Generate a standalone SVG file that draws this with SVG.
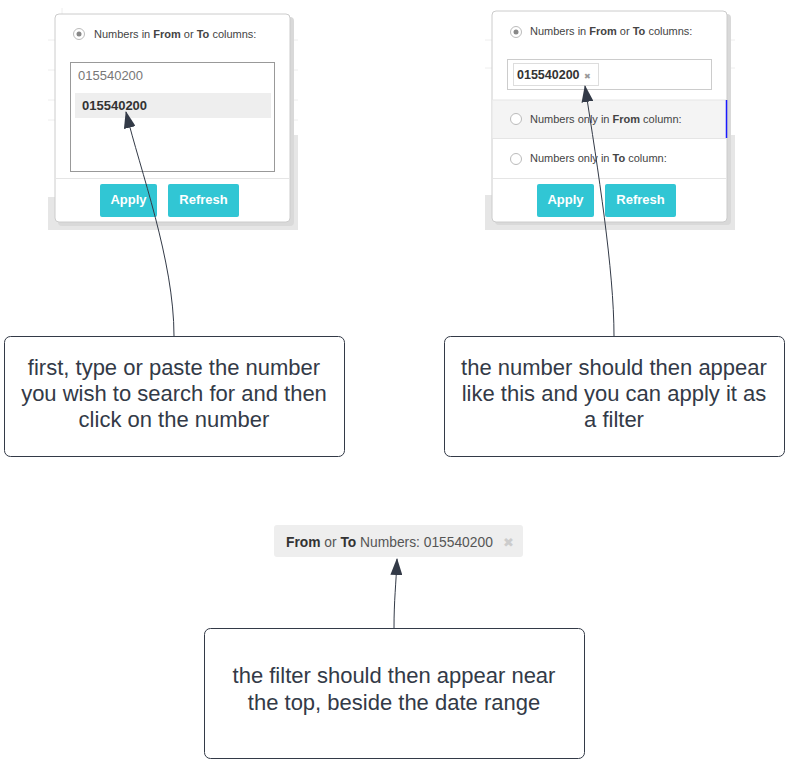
<svg xmlns="http://www.w3.org/2000/svg" width="788" height="770" viewBox="0 0 788 770">
<defs>
<marker id="ah" viewBox="0 0 17 12" refX="16" refY="6" markerWidth="17" markerHeight="12" markerUnits="userSpaceOnUse" orient="auto">
<path d="M0,0 L17,6 L0,12 Z" fill="#333a47"/>
</marker>
</defs>
<style>
.ui{font-family:"Liberation Sans",Arial,sans-serif;font-size:11px;fill:#444}
.b{font-weight:bold}
.x{font-family:"DejaVu Sans",sans-serif}
.btn{fill:#31c6d4}
.btnt{font-family:"Liberation Sans",Arial,sans-serif;font-size:13px;font-weight:bold;fill:#fff;text-anchor:middle}
.radio{fill:#fff;stroke:#bbb;stroke-width:1}
.pop{fill:#fff;stroke:#ccc;stroke-width:1}
.shadow{fill:#d9d9d9}
.grid{stroke:#eee;stroke-width:1}
.callout{fill:#fff;stroke:#333a47;stroke-width:1}
.ct{font-family:"Liberation Sans",Arial,sans-serif;font-size:22px;fill:#333a47;text-anchor:middle}
.conn{fill:none;stroke:#333a47;stroke-width:1}
</style>

<g id="screenshot-left">
<rect x="48" y="8" width="250" height="224" fill="#fff"/>
<line class="grid" x1="62" y1="8" x2="62" y2="197"/>
<line class="grid" x1="48" y1="40" x2="298" y2="40"/>
<line class="grid" x1="48" y1="70" x2="298" y2="70"/>
<line class="grid" x1="48" y1="100" x2="298" y2="100"/>
<line class="grid" x1="48" y1="120" x2="298" y2="120"/>
<rect x="48" y="197" width="250" height="33" fill="#e6e6e6"/>
<rect x="290" y="135" width="8" height="95" fill="#e6e6e6"/>
<rect class="shadow" x="58" y="17" width="236" height="209" rx="4"/>
<rect class="pop" x="55" y="14" width="235" height="208" rx="4"/>
<circle class="radio" cx="79" cy="34" r="5.5"/>
<circle cx="79" cy="34" r="2.5" fill="#888"/>
<text class="ui" x="94" y="38">Numbers in <tspan class="b">From</tspan> or <tspan class="b">To</tspan> columns:</text>
<rect x="70.5" y="62.5" width="204" height="109" fill="#fff" stroke="#999"/>
<text class="ui" x="78" y="80" style="font-size:13px;fill:#777">015540200</text>
<rect x="75" y="93" width="196" height="25" fill="#eee"/>
<text class="ui b" x="82" y="110" style="font-size:13px;fill:#333">015540200</text>
<line x1="55" y1="178.5" x2="290" y2="178.5" stroke="#e5e5e5"/>
<rect class="btn" x="100" y="184" width="57" height="33" rx="2"/>
<text class="btnt" x="128.5" y="204">Apply</text>
<rect class="btn" x="168" y="184" width="71" height="33" rx="2"/>
<text class="btnt" x="203.5" y="204">Refresh</text>
</g>

<g id="screenshot-right">
<rect x="485" y="8" width="250" height="222" fill="#fff"/>
<line class="grid" x1="485" y1="40" x2="735" y2="40"/>
<line class="grid" x1="485" y1="68" x2="735" y2="68"/>
<rect x="485" y="195" width="250" height="35" fill="#e6e6e6"/>
<rect x="727" y="135" width="8" height="95" fill="#e6e6e6"/>
<rect class="shadow" x="495" y="14" width="236" height="211" rx="4"/>
<rect class="pop" x="492" y="11" width="235" height="211" rx="4"/>
<circle class="radio" cx="516" cy="32" r="5.5"/>
<circle cx="516" cy="32" r="2.5" fill="#888"/>
<text class="ui" x="530" y="35">Numbers in <tspan class="b">From</tspan> or <tspan class="b">To</tspan> columns:</text>
<rect x="507.5" y="59.5" width="204" height="30" fill="#fff" stroke="#ccc"/>
<rect x="513.5" y="63.5" width="85" height="22" fill="#fff" stroke="#ddd"/>
<text class="ui b" x="517" y="79" style="font-size:12.5px;fill:#333">015540200</text>
<text class="x" x="584" y="79" style="font-size:8px;fill:#999">✖</text>
<rect x="492.5" y="100" width="234" height="38" fill="#f4f4f4"/>
<line x1="492.5" y1="100" x2="726.5" y2="100" stroke="#e5e5e5"/>
<line x1="726.5" y1="100" x2="726.5" y2="138" stroke="#1a1aff" stroke-width="1.5"/>
<circle class="radio" cx="516" cy="119" r="5.5"/>
<text class="ui" x="530" y="123">Numbers only in <tspan class="b">From</tspan> column:</text>
<line x1="492.5" y1="138.5" x2="726.5" y2="138.5" stroke="#e5e5e5"/>
<circle class="radio" cx="516" cy="159" r="5.5"/>
<text class="ui" x="530" y="162">Numbers only in <tspan class="b">To</tspan> column:</text>
<line x1="492.5" y1="178.5" x2="726.5" y2="178.5" stroke="#e5e5e5"/>
<rect class="btn" x="537" y="184" width="57" height="33" rx="2"/>
<text class="btnt" x="565.5" y="204">Apply</text>
<rect class="btn" x="605" y="184" width="71" height="33" rx="2"/>
<text class="btnt" x="640.5" y="204">Refresh</text>
</g>

<g id="filter-chip">
<rect x="274" y="525" width="249" height="32" rx="3" fill="#eee"/>
<text class="ui" x="286" y="547" style="font-size:13.8px;fill:#555"><tspan class="b" style="fill:#333">From</tspan> or <tspan class="b" style="fill:#333">To</tspan> Numbers: 015540200</text>
<text class="x" x="503" y="547" style="font-size:13px;fill:#ccc">✖</text>
</g>

<g id="callout-left">
<rect class="callout" x="4.5" y="336.5" width="340" height="120" rx="6"/>
<text class="ct" x="174" y="375">first, type or paste the number</text>
<text class="ct" x="174" y="401">you wish to search for and then</text>
<text class="ct" x="174" y="427">click on the number</text>
</g>

<g id="callout-right">
<rect class="callout" x="444.5" y="336.5" width="340" height="120" rx="6"/>
<text class="ct" x="614" y="375">the number should then appear</text>
<text class="ct" x="614" y="401">like this and you can apply it as</text>
<text class="ct" x="614" y="427">a filter</text>
</g>

<g id="callout-bottom">
<rect class="callout" x="204.5" y="628.5" width="380" height="130" rx="6"/>
<text class="ct" x="394" y="683">the filter should then appear near</text>
<text class="ct" x="394" y="710">the top, beside the date range</text>
</g>

<g id="connectors">
<path class="conn" d="M174,336 C174,260 140,170 126,112" marker-end="url(#ah)"/>
<path class="conn" d="M614,336 C614,270 598,170 585,86" marker-end="url(#ah)"/>
<path class="conn" d="M394,628 C394,600 396,585 397,559" marker-end="url(#ah)"/>
</g>
</svg>
